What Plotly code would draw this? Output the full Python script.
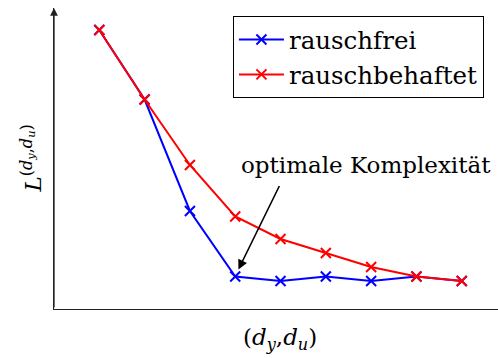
import plotly.graph_objects as go

# model orders (d_y, d_u) on the x axis, loss values per series
orders = [1, 2, 3, 4, 5, 6, 7, 8, 9]
loss_clean = [2.79, 2.095, 0.98, 0.325, 0.28, 0.325, 0.28, 0.325, 0.28]
loss_noisy = [2.79, 2.095, 1.44, 0.925, 0.70, 0.56, 0.42, 0.325, 0.28]
series_names = ["rauschfrei", "rauschbehaftet"]
series_colors = ["#0000ff", "#ff0000"]
optimum_index = 3

FONT = "DejaVu Serif"
FS = 23

fig = go.Figure()
for name, vals, col in zip(series_names, [loss_clean, loss_noisy], series_colors):
    fig.add_trace(go.Scatter(
        x=orders, y=vals, name=name, mode="lines+markers",
        line=dict(color=col, width=2),
        marker=dict(symbol="x-thin", size=10, color=col,
                    line=dict(color=col, width=2)),
    ))

# y axis arrow
fig.add_annotation(x=0, y=3.01, xref="x", yref="y", axref="x", ayref="y",
                   ax=0, ay=0, text="", showarrow=True, arrowhead=2,
                   arrowsize=1.2, arrowwidth=1.3, arrowcolor="#222222")

# arrow to the optimum
fig.add_annotation(x=orders[optimum_index] + 0.07, y=loss_clean[optimum_index] + 0.07,
                   xref="x", yref="y", axref="x", ayref="y",
                   ax=orders[optimum_index] + 0.99, ay=loss_clean[optimum_index] + 0.92,
                   text="", showarrow=True, arrowhead=2, arrowsize=1.2,
                   arrowwidth=1.6, arrowcolor="black")
fig.add_annotation(x=6.88, y=1.44, xref="x", yref="y", showarrow=False,
                   text="optimale Komplexität",
                   font=dict(family=FONT, size=FS, color="black"))

# axis labels
fig.add_annotation(x=-0.09, y=0.50, xref="paper", yref="paper", showarrow=False,
                   textangle=-90,
                   text="<i>L</i><sup>(<i>d</i><sub><i>y</i></sub>,<i>d</i><sub><i>u</i></sub>)</sup>",
                   font=dict(family=FONT, size=FS, color="black"))
fig.add_annotation(x=0.51, y=-0.155, xref="paper", yref="paper", showarrow=False,
                   text="(<i>d</i><sub><i>y</i></sub>,<i>d</i><sub><i>u</i></sub>)",
                   font=dict(family=FONT, size=FS, color="black"))

fig.update_layout(
    width=498, height=358,
    margin=dict(l=54, r=0, t=8, b=49),
    paper_bgcolor="white", plot_bgcolor="white",
    font=dict(family=FONT, size=FS, color="black"),
    showlegend=True,
    legend=dict(x=0.403, y=0.973, xanchor="left", yanchor="top",
                bordercolor="black", borderwidth=1, bgcolor="white",
                itemwidth=45, font=dict(family=FONT, size=24.5),
                tracegroupgap=0),
    xaxis=dict(range=[0, 9.8], showgrid=False, zeroline=False, showticklabels=False,
               ticks="", showline=True, linecolor="#222222", linewidth=1.3),
    yaxis=dict(range=[0, 3.01], showgrid=False, zeroline=False, showticklabels=False,
               ticks="", showline=True, linecolor="#222222", linewidth=1.3),
)

fig.write_html("out.html")
